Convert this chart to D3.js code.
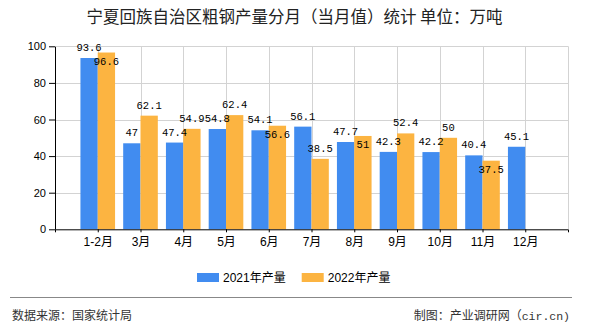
<!DOCTYPE html>
<html>
<head>
<meta charset="utf-8">
<script src="https://cdn.jsdelivr.net/npm/d3@7"></script>
<style>
html,body{margin:0;padding:0;background:#fff;}
svg{display:block;}
</style>
</head>
<body>
<svg id="chart" width="590" height="330"></svg>
<script>
const categories = ["1-2月","3月","4月","5月","6月","7月","8月","9月","10月","11月","12月"];
const series2021 = [93.6,47,47.4,54.8,54.1,56.1,47.7,42.3,42.2,40.4,45.1];
const series2022 = [96.6,62.1,54.9,62.4,56.6,38.5,51,52.4,50,37.5,null];
const seriesNames = ["2021年产量","2022年产量"];
const yTicks = [0,20,40,60,80,100];
const titleText = "宁夏回族自治区粗钢产量分月（当月值）统计 单位：万吨";
const sourceText = "数据来源：国家统计局";
const creditCn = "制图：产业调研网（";
const creditEn = "cir.cn)";

const colors = ["#418CF0","#FCB441"];
const svg = d3.select("#chart");
const L = 55, R = 568, T = 46.3, B = 229.3;

const x = d3.scalePoint().domain(categories).range([L, R]).padding(1);
const y = d3.scaleLinear().domain([0, 100]).range([B, T]);
const bw = x.step() * 0.405;

// title
svg.append("text").attr("x", 294.5).attr("y", 23)
  .attr("text-anchor","middle")
  .style("font-family","'Noto Sans CJK SC', sans-serif")
  .style("font-size","16.5px").style("fill","#222")
  .text(titleText);

// grid
const grid = svg.append("g").attr("stroke","#d3d3d3").attr("stroke-width",1);
yTicks.filter(t => t > 0).forEach(t => {
  grid.append("line").attr("x1", L).attr("x2", R).attr("y1", Math.round(y(t))+0.5).attr("y2", Math.round(y(t))+0.5);
});
categories.forEach(c => {
  grid.append("line").attr("x1", Math.round(x(c))+0.5).attr("x2", Math.round(x(c))+0.5).attr("y1", T).attr("y2", B);
});
grid.append("line").attr("x1", R+0.5).attr("x2", R+0.5).attr("y1", T).attr("y2", B);

// bars
const data = categories.map((c,i) => ({c, a: series2021[i], b: series2022[i]}));
const g = svg.append("g");
g.selectAll(".b1").data(data).enter().append("rect")
  .attr("x", d => x(d.c) - bw).attr("width", bw)
  .attr("y", d => y(d.a)).attr("height", d => B - y(d.a))
  .attr("fill", colors[0]);
g.selectAll(".b2").data(data.filter(d => d.b != null)).enter().append("rect")
  .attr("x", d => x(d.c)).attr("width", bw)
  .attr("y", d => y(d.b)).attr("height", d => B - y(d.b))
  .attr("fill", colors[1]);

// axes
const yAxis = svg.append("g").attr("transform", `translate(${L},0)`)
  .call(d3.axisLeft(y).tickValues(yTicks).tickSize(6).tickSizeOuter(0).tickPadding(3));
yAxis.selectAll("text").style("font-family","'Liberation Sans', Arial, sans-serif").style("font-size","11px").style("fill","#000");
yAxis.selectAll("line,path").attr("stroke","#000");

const xAxis = svg.append("g").attr("transform", `translate(0,${B})`)
  .call(d3.axisBottom(x).tickSize(3).tickSizeOuter(3).tickPadding(5));
xAxis.selectAll("text").style("font-family","'Liberation Sans', 'Noto Sans CJK SC', sans-serif").style("font-size","12px").style("fill","#000");
xAxis.selectAll("line,path").attr("stroke","#000");

// value labels with simple collision avoidance
const lab = svg.append("g")
  .style("font-family","'Liberation Mono', monospace").style("font-size","10.5px").attr("fill","#000")
  .attr("text-anchor","middle");
data.forEach(d => {
  const ay = y(d.a) - 7;
  lab.append("text").attr("x", x(d.c) - bw/2).attr("y", ay).text(d.a);
  if (d.b != null) {
    let by = y(d.b) - 7;
    if (Math.abs(by - ay) < 11) by = y(d.b) + 12;
    lab.append("text").attr("x", x(d.c) + bw/2).attr("y", by).text(d.b);
  }
});

// legend
const leg = svg.append("g").style("font-family","'Liberation Sans', 'Noto Sans CJK SC', sans-serif").style("font-size","12px");
let lx = 197;
seriesNames.forEach((n,i) => {
  leg.append("rect").attr("x", lx).attr("y", 273).attr("width", 22).attr("height", 9).attr("fill", colors[i]);
  const t = leg.append("text").attr("x", lx + 26).attr("y", 281.5).attr("fill","#000").text(n);
  lx += 26 + t.node().getComputedTextLength() + 16;
});

// footer
svg.append("line").attr("x1", 10).attr("x2", 572).attr("y1", 297.5).attr("y2", 297.5).attr("stroke","#888").attr("stroke-width",1.2);
svg.append("text").attr("x", 12).attr("y", 319.5)
  .style("font-family","'Noto Sans CJK SC', sans-serif").style("font-size","12px").attr("fill","#333").text(sourceText);
const credit = svg.append("text").attr("x", 570).attr("y", 319.5).attr("text-anchor","end")
  .style("font-family","'Noto Sans CJK SC', sans-serif").style("font-size","12px").attr("fill","#333");
credit.append("tspan").text(creditCn);
credit.append("tspan").style("font-family","'Liberation Mono', monospace").style("font-size","11.5px").text(creditEn);
</script>
</body>
</html>
